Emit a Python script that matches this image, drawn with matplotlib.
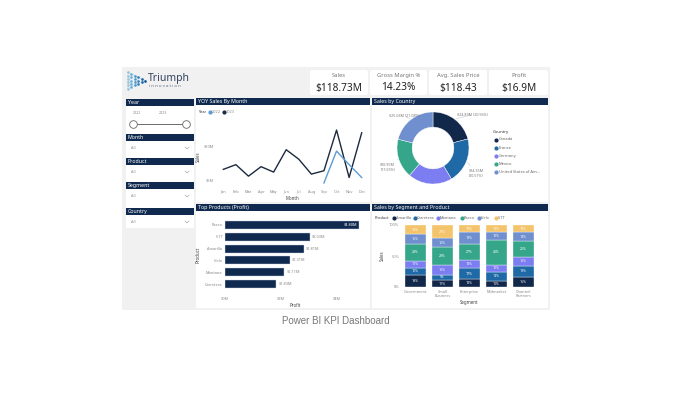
import numpy as np
import matplotlib.pyplot as plt
from matplotlib.patches import Rectangle, FancyBboxPatch
from matplotlib.lines import Line2D

plt.rcParams['font.family'] = ['Noto Sans', 'DejaVu Sans']

W, H = 680, 409

# KPI cards
kpi_titles = ['Sales', 'Gross Margin %', 'Avg. Sales Price', 'Profit']
kpi_values = ['$118.73M', '14.23%', '$118.43', '$16.9M']

# YOY sales by month ($M)
months = ['Jan', 'Feb', 'Mar', 'Apr', 'May', 'Jun', 'Jul', 'Aug', 'Sep', 'Oct', 'Nov', 'Dec']
sales_2022 = [np.nan] * 8 + [4.6, 9.3, 7.3, 5.4]
sales_2023 = [6.6, 7.3, 5.6, 7.0, 6.2, 9.5, 8.1, 5.9, 6.4, 12.4, 5.4, 12.0]

# sales by country ($M)
countries = ['Canada', 'France', 'Germany', 'Mexico', 'United States of Am...']
country_sales = [24.89, 24.35, 23.51, 20.95, 25.03]

# top products by profit ($M)
products = ['Paseo', 'VTT', 'Amarilla', 'Velo', 'Montana', 'Carretera']
profit = [4.80, 3.03, 2.81, 2.31, 2.11, 1.83]

# sales share (%) by segment and product
segments = ['Government', 'Small\nBusiness', 'Enterprise', 'Midmarket', 'Channel\nPartners']
seg_products = ['Amarilla', 'Carretera', 'Montana', 'Paseo', 'Velo', 'VTT']
share_amarilla = [19, 11, 13, 10, 16]
share_carretera = [12, 9, 17, 14, 18]
share_montana = [11, 16, 13, 12, 15]
share_paseo = [28, 28, 27, 40, 25]
share_velo = [15, 15, 18, 12, 14]
share_vtt = [15, 21, 12, 12, 12]
shares = [share_amarilla, share_carretera, share_montana, share_paseo, share_velo, share_vtt]

navy = '#102a4f'
palette = ['#12284b', '#1f6aa6', '#7b7df0', '#35a68a', '#6f8fcf', '#f3c46b']
grey_txt = '#8a8a8a'

fig = plt.figure(figsize=(6.8, 4.09), dpi=100)
fig.patch.set_facecolor('white')


def box(x0, y0, x1, y1):
    return [x0 / W, 1 - y1 / H, (x1 - x0) / W, (y1 - y0) / H]


def rect(x0, y0, x1, y1, color, z=0, rounded=False):
    if rounded:
        p = FancyBboxPatch((x0 / W, 1 - y1 / H), (x1 - x0) / W, (y1 - y0) / H,
                           boxstyle='round,pad=0,rounding_size=0.004',
                           transform=fig.transFigure, facecolor=color,
                           edgecolor='none', zorder=z)
    else:
        p = Rectangle((x0 / W, 1 - y1 / H), (x1 - x0) / W, (y1 - y0) / H,
                      transform=fig.transFigure, facecolor=color,
                      edgecolor='none', zorder=z)
    fig.patches.append(p)


def txt(x, y, s, **kw):
    kw.setdefault('va', 'center')
    return fig.text(x / W, 1 - y / H, s, **kw)


def header(x0, y0, x1, title):
    rect(x0, y0, x1, y0 + 7, navy, z=2)
    txt(x0 + 2, y0 + 3.6, title, color='white', fontsize=3.8, fontweight='bold', zorder=3)


def dot(x, y, color, size=2.2):
    fig.add_artist(Line2D([x / W], [1 - y / H], marker='o', ms=size, color=color,
                          linestyle='none', transform=fig.transFigure))


# dashboard background
rect(122, 67, 550, 310, '#f1f1f1')

# logo
ax_logo = fig.add_axes(box(126, 70, 147, 91))
ax_logo.set_zorder(3)
ax_logo.axis('off')
for i in range(6):
    n = 6 - i
    ys = np.linspace(-(n - 1) / 2, (n - 1) / 2, n)
    ax_logo.plot([i] * n, ys, color='#9ec3e6', lw=0.3)
    if i < 5:
        ax_logo.plot([i, i + 1], [ys[0], ys[0] + 0.5], color='#9ec3e6', lw=0.3)
        ax_logo.plot([i, i + 1], [ys[-1], ys[-1] - 0.5], color='#9ec3e6', lw=0.3)
    ax_logo.scatter([i] * n, ys, s=3.5, color=plt.cm.Blues(0.4 + 0.1 * i), lw=0, zorder=3)
ax_logo.set_xlim(-0.5, 5.5)
ax_logo.set_ylim(-3.2, 3.2)
txt(148, 78, 'Triumph', color='#34445e', fontsize=7.5)
txt(149, 86, 'i n n o v a t i o n', color='#5a6a80', fontsize=3.1)

# KPI cards
card_x = [(310, 368), (370, 427), (429, 487), (489, 548)]
for (x0, x1), t, v in zip(card_x, kpi_titles, kpi_values):
    rect(x0, 70, x1, 95, 'white', z=1, rounded=True)
    txt((x0 + x1) / 2, 75.5, t, color='#777777', fontsize=4.2, ha='center', zorder=2)
    txt((x0 + x1) / 2, 88, v, color='#222222', fontsize=7.3, ha='center', zorder=2)

# slicers
rect(126, 99, 194, 228, 'white', z=1)
header(126, 99, 194, 'Year')
txt(137, 113, '2022', color=grey_txt, fontsize=2.7, ha='center', zorder=3)
txt(163, 113, '2023', color=grey_txt, fontsize=2.7, ha='center', zorder=3)
fig.add_artist(Line2D([133 / W, 186 / W], [1 - 124 / H, 1 - 124 / H], color='#555555',
                      lw=0.6, transform=fig.transFigure))
for sx in (133, 186):
    fig.add_artist(Line2D([sx / W], [1 - 124 / H], marker='o', ms=5.5, mfc='white',
                          mec='#666666', mew=0.6, linestyle='none', transform=fig.transFigure))
for y0, name in [(134, 'Month'), (158, 'Product'), (182, 'Segment'), (208, 'Country')]:
    header(126, y0, 194, name)
    txt(131, y0 + 14, 'All', color=grey_txt, fontsize=2.8, zorder=3)
    fig.add_artist(Line2D([185 / W, 187 / W, 189 / W],
                          [1 - (y0 + 13) / H, 1 - (y0 + 15) / H, 1 - (y0 + 13) / H],
                          color='#999999', lw=0.4, transform=fig.transFigure))

# panels
for x0, y0, x1, y1, title in [(196, 98, 370, 202, 'YOY Sales By Month'),
                              (372, 98, 548, 202, 'Sales by Country'),
                              (196, 204, 370, 308, 'Top Products (Profit)'),
                              (372, 204, 548, 308, 'Sales by Segment and Product')]:
    rect(x0, y0, x1, y1, 'white', z=1)
    header(x0, y0, x1, title)

# ---- YOY line chart
txt(198, 112, 'Year', color='#333333', fontsize=2.8, fontweight='bold', zorder=3)
dot(210, 112, '#5b9bd5', 2.0)
txt(212, 112, '2022', color=grey_txt, fontsize=2.8, zorder=3)
dot(224, 112, '#1b2a3e', 2.0)
txt(226, 112, '2023', color=grey_txt, fontsize=2.8, zorder=3)

ax1 = fig.add_axes(box(217, 126, 368, 187))
ax1.set_zorder(3)
ax1.patch.set_alpha(0)
x = np.arange(len(months))
ax1.plot(x, sales_2023, color='#1b2a3e', lw=1.0)
ax1.plot(x, sales_2022, color='#5b9bd5', lw=1.0)
ax1.set_xlim(-0.5, 11.5)
ax1.set_ylim(4, 13)
ax1.set_xticks(x, months)
ax1.set_yticks([5, 10], ['$5M', '$10M'])
ax1.tick_params(length=0, labelsize=2.8, labelcolor=grey_txt, pad=2)
for s in ax1.spines.values():
    s.set_visible(False)
ax1.set_xlabel('Month', fontsize=3.2, color='#444444', labelpad=1.5)
ax1.set_ylabel('Sales', fontsize=3.2, color='#444444', labelpad=2)

# ---- donut
ax2 = fig.add_axes(box(397, 112, 469, 184))
ax2.set_zorder(3)
wedges, _ = ax2.pie(country_sales, colors=palette[:5], startangle=90, counterclock=False,
                    radius=1, wedgeprops=dict(width=0.42, edgecolor='white', linewidth=0.3))
ax2.set_xlim(-1, 1)
ax2.set_ylim(-1, 1)
total = sum(country_sales)
label_pos = [(0.66, 0.92, 'left'), (1.0, -0.72, 'left'), (-0.28, -1.24, 'right'),
             (-1.05, -0.55, 'right'), (-0.36, 0.88, 'right')]
two_line = [False, True, False, True, False]
for w, v, (lx, ly, ha), tl in zip(wedges, country_sales, label_pos, two_line):
    ang = np.deg2rad((w.theta1 + w.theta2) / 2)
    px, py = np.cos(ang), np.sin(ang)
    sep = '\n' if tl else ' '
    s = f'${v:.2f}M{sep}({v / total * 100:.2f}%)'
    ax2.annotate(s, xy=(px * 1.03, py * 1.03), xytext=(lx, ly), ha=ha, va='center',
                 fontsize=2.7, color='#777777', linespacing=1.3,
                 arrowprops=dict(arrowstyle='-', color='#bbbbbb', lw=0.3,
                                 shrinkA=1, shrinkB=0))

txt(493, 132, 'Country', color='#333333', fontsize=3.1, fontweight='bold', zorder=3)
for i, c in enumerate(countries):
    yy = 139.5 + i * 8.2
    dot(496, yy, palette[i], 2.0)
    txt(499, yy, c, color='#666666', fontsize=2.9, zorder=3)

# ---- top products bar chart
ax3 = fig.add_axes(box(225, 219, 365, 290))
ax3.set_zorder(3)
ax3.patch.set_alpha(0)
yy = np.arange(len(products))
ax3.barh(yy, profit, height=0.68, color=navy, edgecolor='#c9d3e2', linewidth=0.3)
ax3.set_ylim(len(products) - 0.5, -0.5)
ax3.set_xlim(0, 5.0)
ax3.set_yticks(yy, products)
ax3.set_xticks([0, 2, 4], ['$0M', '$2M', '$4M'])
ax3.tick_params(length=0, labelsize=2.8, labelcolor=grey_txt, pad=2)
ax3.tick_params(axis='x', pad=5)
for s in ax3.spines.values():
    s.set_visible(False)
for i, v in enumerate(profit):
    if i == 0:
        ax3.text(v - 0.06, i, f'${v:.2f}M', ha='right', va='center', fontsize=2.8,
                 color='white', fontweight='bold')
    else:
        ax3.text(v + 0.08, i, f'${v:.2f}M', ha='left', va='center', fontsize=2.8,
                 color='#888888')
ax3.set_xlabel('Profit', fontsize=3.2, color='#444444', labelpad=1.5)
ax3.set_ylabel('Product', fontsize=3.2, color='#444444', labelpad=3)

# ---- stacked segment chart
txt(375, 218, 'Product', color='#333333', fontsize=2.8, fontweight='bold', zorder=3)
legend_x = [394, 415, 438, 462, 479, 496]
for lx, name, col in zip(legend_x, seg_products, palette):
    dot(lx, 218, col, 2.0)
    txt(lx + 2, 218, name, color='#666666', fontsize=2.8, zorder=3)

ax4 = fig.add_axes(box(402, 225, 537, 287))
ax4.set_zorder(3)
ax4.patch.set_alpha(0)
xs = np.arange(len(segments))
bottom = np.zeros(len(segments))
for vals, col in zip(shares, palette):
    vals = np.array(vals, dtype=float)
    ax4.bar(xs, vals, bottom=bottom, width=0.78, color=col, edgecolor='white', linewidth=0.25)
    for xi, b, v in zip(xs, bottom, vals):
        ax4.text(xi, b + v / 2, f'{v:.0f}%', ha='center', va='center', fontsize=2.5,
                 color='white')
    bottom += vals
ax4.set_xlim(-0.5, 4.5)
ax4.set_ylim(0, 100)
ax4.set_xticks(xs, segments)
ax4.set_yticks([0, 50, 100], ['0%', '50%', '100%'])
ax4.tick_params(length=0, labelsize=2.8, labelcolor=grey_txt, pad=2)
for s in ax4.spines.values():
    s.set_visible(False)
ax4.set_xlabel('Segment', fontsize=3.2, color='#444444', labelpad=1.5)
ax4.set_ylabel('Sales', fontsize=3.2, color='#444444', labelpad=3)

# caption
txt(336, 321, 'Power BI KPI Dashboard', color='#777777', fontsize=7, ha='center',
    family=['Liberation Sans', 'DejaVu Sans'])

fig.savefig('out.png', dpi=100, facecolor='white')
